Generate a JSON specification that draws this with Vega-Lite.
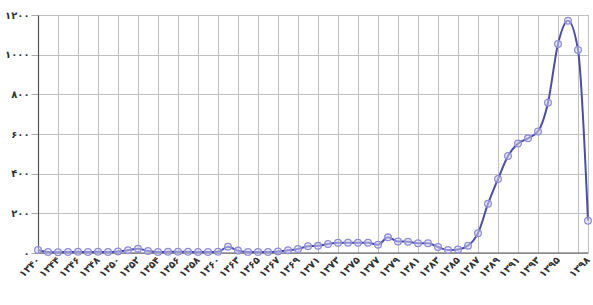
{
  "$schema": "https://vega.github.io/schema/vega-lite/v6.json",
  "width": 550,
  "height": 238,
  "autosize": {"type": "none"},
  "padding": {"left": 38, "top": 15, "right": 5, "bottom": 52},
  "background": "white",
  "config": {
    "view": {"stroke": "#bbbbbb", "strokeWidth": 1},
    "font": "DejaVu Sans"
  },
  "data": {
    "values": [
      {"year": "۱۳۴۰", "value": 15},
      {"year": "۱۳۴۲", "value": 5},
      {"year": "۱۳۴۴", "value": 4},
      {"year": "۱۳۴۵", "value": 5},
      {"year": "۱۳۴۶", "value": 6},
      {"year": "۱۳۴۷", "value": 5},
      {"year": "۱۳۴۸", "value": 6},
      {"year": "۱۳۴۹", "value": 5},
      {"year": "۱۳۵۰", "value": 8},
      {"year": "۱۳۵۱", "value": 14},
      {"year": "۱۳۵۲", "value": 22},
      {"year": "۱۳۵۳", "value": 10},
      {"year": "۱۳۵۴", "value": 5},
      {"year": "۱۳۵۵", "value": 6},
      {"year": "۱۳۵۶", "value": 6},
      {"year": "۱۳۵۷", "value": 6},
      {"year": "۱۳۵۸", "value": 5},
      {"year": "۱۳۵۹", "value": 5},
      {"year": "۱۳۶۰", "value": 6},
      {"year": "۱۳۶۲", "value": 32},
      {"year": "۱۳۶۳", "value": 12},
      {"year": "۱۳۶۴", "value": 5},
      {"year": "۱۳۶۵", "value": 5},
      {"year": "۱۳۶۶", "value": 5},
      {"year": "۱۳۶۷", "value": 8},
      {"year": "۱۳۶۸", "value": 14},
      {"year": "۱۳۶۹", "value": 20},
      {"year": "۱۳۷۰", "value": 34},
      {"year": "۱۳۷۱", "value": 36},
      {"year": "۱۳۷۲", "value": 45},
      {"year": "۱۳۷۳", "value": 52},
      {"year": "۱۳۷۴", "value": 52},
      {"year": "۱۳۷۵", "value": 52},
      {"year": "۱۳۷۶", "value": 52},
      {"year": "۱۳۷۷", "value": 42},
      {"year": "۱۳۷۸", "value": 79},
      {"year": "۱۳۷۹", "value": 58},
      {"year": "۱۳۸۰", "value": 57},
      {"year": "۱۳۸۱", "value": 49},
      {"year": "۱۳۸۲", "value": 49},
      {"year": "۱۳۸۳", "value": 30},
      {"year": "۱۳۸۴", "value": 15},
      {"year": "۱۳۸۵", "value": 18},
      {"year": "۱۳۸۶", "value": 37},
      {"year": "۱۳۸۷", "value": 100},
      {"year": "۱۳۸۸", "value": 248},
      {"year": "۱۳۸۹", "value": 373},
      {"year": "۱۳۹۰", "value": 489},
      {"year": "۱۳۹۱", "value": 552},
      {"year": "۱۳۹۲", "value": 578},
      {"year": "۱۳۹۳", "value": 613},
      {"year": "۱۳۹۴", "value": 758},
      {"year": "۱۳۹۵", "value": 1054},
      {"year": "۱۳۹۶", "value": 1171},
      {"year": "۱۳۹۷", "value": 1024},
      {"year": "۱۳۹۸", "value": 163}
    ]
  },
  "encoding": {
    "x": {
      "field": "year",
      "type": "ordinal",
      "sort": null,
      "scale": {"type": "point", "padding": 0},
      "axis": {
        "title": null,
        "values": ["۱۳۴۰", "۱۳۴۴", "۱۳۴۶", "۱۳۴۸", "۱۳۵۰", "۱۳۵۲", "۱۳۵۴", "۱۳۵۶", "۱۳۵۸", "۱۳۶۰", "۱۳۶۳", "۱۳۶۵", "۱۳۶۷", "۱۳۶۹", "۱۳۷۱", "۱۳۷۳", "۱۳۷۵", "۱۳۷۷", "۱۳۷۹", "۱۳۸۱", "۱۳۸۳", "۱۳۸۵", "۱۳۸۷", "۱۳۸۹", "۱۳۹۱", "۱۳۹۳", "۱۳۹۵", "۱۳۹۷", "۱۳۹۸"],
        "labelExpr": "datum.value == '۱۳۹۷' ? '' : datum.label",
        "labelAngle": -45,
        "labelAlign": "right",
        "labelBaseline": "middle",
        "labelFontSize": 10,
        "labelFontWeight": "bold",
        "labelColor": "#333333",
        "labelPadding": 5,
        "ticks": false,
        "domain": false,
        "grid": true,
        "gridColor": "#c0c0c0",
        "gridWidth": 1,
        "labelOverlap": false
      }
    },
    "y": {
      "field": "value",
      "type": "quantitative",
      "scale": {"domain": [0, 1200], "nice": false},
      "axis": {
        "title": null,
        "values": [0, 200, 400, 600, 800, 1000, 1200],
        "labelExpr": "datum.value == 0 ? '۰' : datum.value == 200 ? '۲۰۰' : datum.value == 400 ? '۴۰۰' : datum.value == 600 ? '۶۰۰' : datum.value == 800 ? '۸۰۰' : datum.value == 1000 ? '۱۰۰۰' : '۱۲۰۰'",
        "labelFontSize": 10,
        "labelFontWeight": "bold",
        "labelColor": "#333333",
        "labelPadding": 2,
        "tickSize": 7,
        "tickColor": "#aaaaaa",
        "domainColor": "#555555",
        "domainWidth": 1.2,
        "gridColor": "#c0c0c0",
        "gridWidth": 1
      }
    }
  },
  "layer": [
    {
      "mark": {"type": "rule", "color": "#555555", "strokeWidth": 1.2},
      "data": {"values": [{"base": 0}]},
      "encoding": {"y": {"field": "base", "type": "quantitative"}, "x": null}
    },
    {
      "mark": {"type": "line", "interpolate": "monotone", "color": "#4b4cae", "strokeWidth": 2}
    },
    {
      "mark": {"type": "point", "shape": "circle", "size": 45, "filled": false, "stroke": "#8e8ed8", "strokeWidth": 1.3, "fill": "#d6d6f2", "fillOpacity": 0.5}
    }
  ]
}
